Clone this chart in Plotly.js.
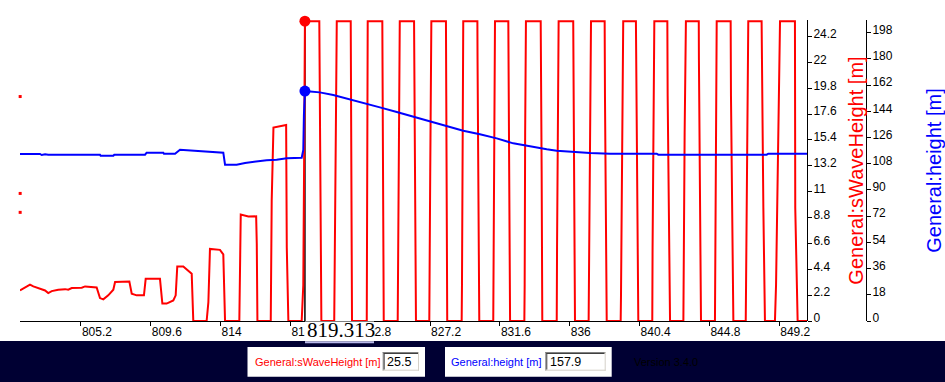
<!DOCTYPE html>
<html>
<head>
<meta charset="utf-8">
<script src="https://cdn.plot.ly/plotly-3.0.1.min.js"></script>
<style>html,body{margin:0;padding:0;background:#fff;}#chart{width:945px;height:382px;}</style>
</head>
<body>
<div id="chart"></div>
<script>
// ---- data ----
const waveX = [801.36,801.57,801.99,802.20,802.62,802.94,803.14,803.36,803.77,804.20,804.40,804.62,805.25,805.46,806.19,806.40,806.61,806.92,807.24,807.35,808.25,808.40,808.71,809.17,809.28,810.18,810.33,810.60,811.02,811.17,811.27,811.65,812.18,812.28,813.12,813.23,813.33,813.96,814.17,814.28,815.18,815.27,815.75,816.24,816.28,816.32,817.16,817.22,817.33,818.13,818.17,818.27,819.11,819.21,819.26,819.313,
820.22,820.24,820.29,820.35,821.16,821.18,821.24,821.32,822.20,822.22,822.28,823.21,823.22,823.27,824.19,824.21,824.28,825.16,825.18,825.22,825.29,826.19,826.21,826.25,826.31,827.15,827.17,827.21,827.28,828.20,828.22,828.28,829.19,829.21,829.29,830.18,830.19,830.24,830.30,831.18,831.20,831.29,832.13,832.15,832.24,833.14,833.16,833.19,833.24,834.17,834.19,834.23,834.27,835.18,835.20,835.30,836.22,836.24,836.33,837.19,837.21,837.28,837.34,838.20,838.22,838.33,839.21,839.23,839.29,839.37,840.17,840.19,840.26,840.32,841.20,841.22,841.33,842.15,842.17,842.32,843.16,843.17,843.24,843.32,844.13,844.14,844.21,844.27,845.15,845.17,845.26,846.14,846.16,846.31,847.09,847.11,847.17,847.25,848.09,848.11,848.20,848.30,848.93,849.00,849.09,849.25,850.19,850.21,850.36,850.95];
const waveHeight = [2.60,2.74,3.09,2.94,2.71,2.60,2.38,2.54,2.66,2.71,2.66,2.80,2.83,2.94,2.85,1.95,1.84,2.18,2.66,3.31,3.36,2.32,2.18,2.18,3.59,3.59,1.48,1.48,1.75,2.18,4.64,4.64,4.02,0,0,1.61,6.13,6.05,5.66,0,0,9.05,8.88,8.90,6.56,0,0,10.23,16.45,16.67,6.27,0,0,3.03,13.05,25.5,
25.5,22.27,9.61,0,0,3.09,16.19,25.5,25.5,19.13,0,0,6.27,25.5,25.5,15.99,0,0,3.09,15.89,25.5,25.5,22.27,9.61,0,0,6.27,12.75,25.5,25.5,19.13,0,0,3.09,25.5,25.5,22.27,9.61,0,0,6.27,25.5,25.5,19.13,0,0,3.09,15.99,25.5,25.5,22.27,12.75,0,0,6.27,25.5,25.5,19.13,0,0,3.09,15.99,25.5,25.5,19.13,0,0,2.18,10.52,25.5,25.5,22.27,9.61,0,0,6.27,25.5,25.5,19.13,0,0,3.09,15.99,25.5,25.5,22.27,9.61,0,0,6.27,25.5,25.5,19.13,0,0,3.09,14.88,25.5,25.5,22.27,9.61,0,0,3.09,12.75,25.5,25.5,9.61,0,0];

const heightX = [801.36,802.62,802.73,802.94,803.14,806.40,806.44,807.24,807.30,809.24,809.34,810.39,810.43,811.13,811.44,811.97,812.70,813.65,814.17,814.28,815.01,815.54,815.96,816.38,816.90,817.53,818.17,819.11,819.21,819.25,819.313,819.63,820.25,821.10,822.15,823.21,824.04,825.10,826.14,827.19,828.25,829.29,830.34,831.40,832.44,833.50,834.55,835.18,836.22,837.28,838.54,841.48,841.58,848.41,848.51,850.95];
const heightVal = [114.7,114.7,114.0,114.5,114.2,114.2,113.5,113.5,114.2,114.2,115.6,115.6,114.9,114.9,117.6,117.2,116.5,116.1,115.6,107.3,107.3,108.5,109.2,109.7,110.4,110.8,111.7,112.1,117.4,141.5,157.9,157.6,157.0,155.2,152.2,149.5,146.7,143.5,140.3,137.2,134.0,130.7,128.2,125.4,122.0,119.7,117.9,116.9,116.1,115.4,114.9,114.9,114.2,114.2,114.9,114.9];

const strayX = [801.37,801.37,801.37];
const strayVal = [19.09,10.85,9.24];

const cursorX = 819.313;
const cursorWave = 25.5;
const cursorHeight = 157.9;
const cursorLabel = "819.313";

const xTickVals = [805.2,809.6,814,818.4,822.8,827.2,831.6,836,840.4,844.8,849.2];
const xTickText = ["805.2","809.6","814","818.4","822.8","827.2","831.6","836","840.4","844.8","849.2"];
const waveTickVals = [0,2.2,4.4,6.6,8.8,11,13.2,15.4,17.6,19.8,22,24.2];
const waveTickText = ["0","2.2","4.4","6.6","8.8","11","13.2","15.4","17.6","19.8","22","24.2"];
const heightTickVals = [0,18,36,54,72,90,108,126,144,162,180,198];
const heightTickText = ["0","18","36","54","72","90","108","126","144","162","180","198"];

const waveLabel = "General:sWaveHeight [m]";
const heightLabel = "General:height [m]";
const versionText = "Version 3.4.0";

// ---- layout helpers (pixel -> paper) ----
const PL = 20, PR = 866, PT = 20, PB = 321;
const PW = PR - PL, PH = PB - PT;
const fx = px => (px - PL) / PW;
const fy = py => (PB - py) / PH;
const RED_AXIS_POS = (807 - PL) / PW;

function rect(x0, y0, x1, y1, fill, layer) {
  return {type:'rect', xref:'paper', yref:'paper', x0:fx(x0), x1:fx(x1), y0:fy(y1), y1:fy(y0),
          fillcolor:fill, line:{width:0}, layer: layer || 'above'};
}
function seg(x0, y0, x1, y1, color, w) {
  return {type:'line', xref:'paper', yref:'paper', x0:fx(x0), x1:fx(x1), y0:fy(y0), y1:fy(y1),
          line:{color:color, width:w}, layer:'above'};
}
function inputBox(x0, y0, x1, y1) {
  return [
    rect(x0, y0, x1, y1, '#ffffff'),
    seg(x0, y0+0.5, x1, y0+0.5, '#808080', 1),
    seg(x0+0.5, y0, x0+0.5, y1, '#808080', 1),
    seg(x0+1, y0+1.5, x1-1, y0+1.5, '#404040', 1),
    seg(x0+1.5, y0+1, x0+1.5, y1-1, '#404040', 1),
    seg(x0, y1-0.5, x1, y1-0.5, '#d4d0c8', 1),
    seg(x1-0.5, y0, x1-0.5, y1, '#d4d0c8', 1)
  ];
}
function txt(text, pxLeft, pyMid, color, size, family) {
  return {text:text, xref:'paper', yref:'paper', x:fx(pxLeft), y:fy(pyMid), xanchor:'left', yanchor:'middle',
          showarrow:false, font:{family: family || 'Liberation Sans, Arial, sans-serif', size:size, color:color}};
}

const tickFont = {family:'Liberation Sans, Arial, sans-serif', size:12, color:'#000000'};

const traces = [
  {x: waveX, y: waveHeight, type:'scatter', mode:'lines', yaxis:'y', line:{color:'#ff0000', width:2}, hoverinfo:'skip'},
  {x: heightX, y: heightVal, type:'scatter', mode:'lines', yaxis:'y2', line:{color:'#0000ff', width:2}, hoverinfo:'skip'},
  {x: strayX, y: strayVal, type:'scatter', mode:'markers', yaxis:'y', marker:{color:'#ff0000', size:3, symbol:'square'}, cliponaxis:false, hoverinfo:'skip'},
  {x: [cursorX], y: [cursorWave], type:'scatter', mode:'markers', yaxis:'y', marker:{color:'#ff0000', size:11}, cliponaxis:false, hoverinfo:'skip'},
  {x: [cursorX], y: [cursorHeight], type:'scatter', mode:'markers', yaxis:'y2', marker:{color:'#0000ff', size:11}, cliponaxis:false, hoverinfo:'skip'}
];

const shapes = [
  {type:'line', xref:'x', yref:'paper', x0:cursorX, x1:cursorX, y0:0, y1:1, line:{color:'#000000', width:1.5}, layer:'below'},
  rect(0, 341, 945, 382, '#000033'),
  rect(305, 321.6, 374, 341.5, '#ffffff'),
  rect(305, 341.5, 374, 343.3, '#b8b8ea'),
  rect(247.5, 347, 425, 376.7, '#ffffff'),
  rect(445, 347, 611.7, 376.7, '#ffffff')
].concat(inputBox(382.7, 352, 419, 370.7)).concat(inputBox(545.3, 352, 605.7, 370.7));

const annotations = [
  {text:cursorLabel, xref:'x', yref:'paper', x:cursorX, y:fy(330), xanchor:'left', yanchor:'middle', showarrow:false,
   font:{family:'Liberation Serif, Times New Roman, serif', size:21, color:'#000000'}},
  txt(waveLabel, 252.5, 361.5, '#ff0000', 11),
  txt(cursorWave.toFixed(1), 385, 361.5, '#000000', 12.5),
  txt(heightLabel, 449, 361.5, '#0000ff', 11),
  txt(cursorHeight.toFixed(1), 548, 361.5, '#000000', 12.5),
  txt(versionText, 631.5, 361.5, '#000000', 11)
];

const layout = {
  width:945, height:382,
  margin:{l:PL, r:945-PR, t:PT, b:382-PB, pad:0},
  paper_bgcolor:'#ffffff', plot_bgcolor:'#ffffff',
  showlegend:false, hovermode:false,
  xaxis:{domain:[0, RED_AXIS_POS], range:[801.36, 850.95], tickmode:'array', tickvals:xTickVals, ticktext:xTickText,
         ticks:'outside', ticklen:4, tickcolor:'#000', showline:true, linecolor:'#000', linewidth:1,
         showgrid:false, zeroline:false, ticklabelposition:'outside right', tickfont:tickFont, fixedrange:true},
  yaxis:{anchor:'free', position:RED_AXIS_POS, side:'right', range:[0, 25.6], tickmode:'array', tickvals:waveTickVals, ticktext:waveTickText,
         ticks:'outside', ticklen:4, tickcolor:'#000', showline:true, linecolor:'#000', linewidth:1,
         showgrid:false, zeroline:false, ticklabelposition:'outside top', ticklabelstandoff:3, ticklabelshift:6, tickfont:tickFont, fixedrange:true,
         title:{text:waveLabel, font:{family:'Liberation Sans, Arial, sans-serif', size:20, color:'#ff0000'}, standoff:12}},
  yaxis2:{overlaying:'y', anchor:'free', position:1, side:'right', range:[0, 206.7], tickmode:'array', tickvals:heightTickVals, ticktext:heightTickText,
         ticks:'outside', ticklen:4, tickcolor:'#000', showline:true, linecolor:'#000', linewidth:1,
         showgrid:false, zeroline:false, ticklabelposition:'outside top', ticklabelstandoff:3, ticklabelshift:6, tickfont:tickFont, fixedrange:true,
         title:{text:heightLabel, font:{family:'Liberation Sans, Arial, sans-serif', size:20, color:'#0000ff'}, standoff:36}},
  shapes:shapes,
  annotations:annotations
};

Plotly.newPlot('chart', traces, layout, {displayModeBar:false, staticPlot:true});
</script>
</body>
</html>
